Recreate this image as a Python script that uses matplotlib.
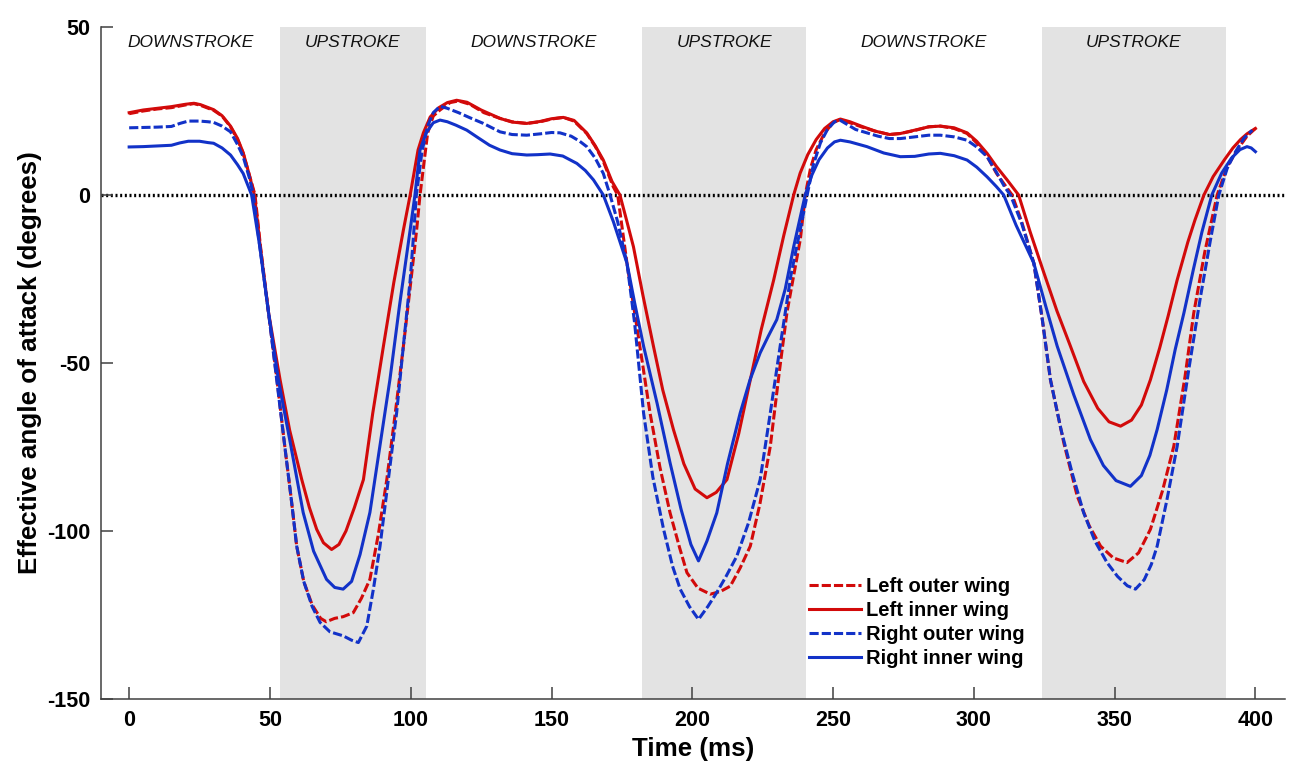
import matplotlib
matplotlib.use("Agg")
import matplotlib.pyplot as plt

plt.rcParams['font.family'] = ['Liberation Sans', 'DejaVu Sans']
plt.rcParams['axes.unicode_minus'] = False

# stroke phases (ms)
upstrokes = [(53.6, 105.3), (182.1, 240.5), (324.2, 389.4)]
phase_labels = ["DOWNSTROKE", "UPSTROKE", "DOWNSTROKE", "UPSTROKE", "DOWNSTROKE", "UPSTROKE"]
phase_centers = [21.8, 79.5, 143.7, 211.3, 282.3, 356.8]

# Left outer wing (red dashed)
lo_t = [0, 5, 10, 15, 20, 23, 25.3, 30, 33, 36, 38.5, 40.5, 42.5, 44.7, 46.6, 49.5, 52.5, 55.3, 57.5,
        59.5, 62, 65, 68, 70, 73, 76, 79.6, 82.5, 85.5, 88.5, 91.5, 94.5, 97.4, 100, 102.1, 103.3,
        106, 108, 110.4, 114, 117, 121, 126, 131.7, 136, 141.2, 146, 150, 154.2, 158, 162.5, 165.5,
        168.4, 171.9, 173.5, 176.8, 181, 185, 188.5, 192.1, 195.5, 198.1, 202, 206.4, 210, 213.5,
        217, 220.6, 224, 227.7, 231, 233.6, 236, 238.4, 240.1, 242, 244, 247, 250, 252.6, 256, 260,
        265, 270, 273.9, 279, 284, 288.1, 293, 297.6, 301, 304.7, 308, 311, 313.6, 317, 321.3, 324.3,
        327.2, 332, 336.7, 341, 345, 349.5, 354.4, 358.5, 362.7, 367, 371, 375, 378.1, 382, 386.4,
        390, 394, 397, 400]
lo_y = [24.2, 25, 25.6, 26, 26.8, 27.2, 26.7, 25.2, 23.5, 20.3, 16.5, 12.4, 6.5, 0, -15, -35, -55, -75, -90,
        -104.5, -115, -122, -126, -127, -126, -125.5, -124.3, -120, -114.4, -101, -84.7, -65, -45, -26, -10.4, 0,
        18.4, 23.5, 25.3, 27.5, 28, 27, 24.5, 22.8, 21.8, 21.3, 21.8, 22.6, 23.1, 22, 18.3, 14.5,
        10, 2.5, 0, -20.3, -43, -64.9, -81, -94.6, -105, -112.4, -117, -118.8, -118, -116.4,
        -111, -104.5, -92, -74.8, -52, -35.1, -24, -13, 0, 8, 13.5, 18.5, 21.5, 22.5, 21.5, 20.3,
        19, 18, 18.3, 19.2, 20.3, 20.5, 19.8, 18.3, 15.5, 11.5, 6.5, 3, 0, -8, -20.3, -37,
        -55, -74, -89.6, -98.5, -104.5, -108, -109.4, -106.5, -99.5, -88, -74.8, -54, -35.1, -17, 0,
        8.5, 14, 17.5, 19.8]

# Left inner wing (red solid)
li_t = [0, 5, 10, 15, 20, 23, 25.3, 30, 33, 36, 38.5, 40.5, 42.5, 44.5, 46.5, 49.5, 53.6, 57, 61.3,
        64, 66.6, 69, 71.9, 74.5, 77, 80, 83.2, 86.5, 90.3, 94, 97.4, 99.8, 102.6, 104.5, 106.9, 110,
        113, 116.3, 120, 125, 131.7, 136, 141.2, 146, 150, 154.2, 158, 162.5, 165.5, 168.4, 171.5,
        174.3, 176.5, 179.1, 182.5, 186.2, 189.5, 193.3, 197, 201, 205.2, 208.5, 212.3, 216.5, 220.6,
        224.5, 228.9, 232.5, 236, 238.3, 241, 244, 247, 250, 252.6, 256, 260, 265, 270, 273.9, 279,
        284, 288.1, 293, 297.6, 301, 304.7, 308, 311.8, 315.9, 320, 324.8, 329.5, 334.3, 339, 344,
        348, 352.1, 356, 359.5, 362.7, 366, 369, 372.2, 376, 378.5, 381.7, 385, 389, 392, 394.7, 397, 400]
li_y = [24.5, 25.3, 25.8, 26.3, 27, 27.3, 26.9, 25.4, 23.6, 20.5, 16.8, 12.6, 6.5, 0, -15, -35, -55, -70, -84.7,
        -93, -99.5, -103.5, -105.5, -104, -100, -93, -84.7, -65, -45, -26, -10.4, 0, 13.4, 18.5, 23.2, 26,
        27.5, 28.2, 27.6, 25.3, 22.8, 21.7, 21.3, 21.9, 22.7, 23.1, 22.2, 18.5, 14.7, 10.4, 4,
        0, -7, -15.4, -30, -45, -58, -69.8, -80, -87.5, -90.1, -88.5, -84.7, -71, -55,
        -40, -25.3, -12, 0, 6.5, 12, 16.5, 19.8, 21.8, 22.6, 21.8, 20.5, 19, 18, 18.3, 19.3,
        20.3, 20.5, 20, 18.5, 16, 12.4, 8.5, 4.5, 0, -11, -23, -34.5, -45, -55.5, -63.5,
        -67.5, -68.8, -67, -62.5, -55, -45.5, -36, -25.3, -14, -7.5, 0, 5.5, 10.5, 14, 16.5, 18.2, 19.8]

# Right outer wing (blue dashed)
ro_t = [0, 5, 10, 15, 18, 21, 25, 28, 30, 33, 36, 38.5, 40.5, 42.9, 44.1, 46.4, 49.5, 52.4, 55.3, 57.5,
        59.5, 62, 65, 67.8, 71.3, 76, 79, 81.4, 84.4, 86.8, 89.1, 92, 95, 97.5, 99.8, 101, 102, 104,
        106, 108, 110.4, 113, 117, 121, 125.8, 131.7, 136, 141.2, 146, 150, 153, 157, 160, 162.5,
        165.5, 168.4, 170.8, 173.5, 176.8, 179.5, 182.7, 186, 189.8, 193, 195.7, 199, 202.2, 205.5,
        208.7, 212, 215.8, 220, 224.1, 227.5, 231.2, 235, 238.3, 240.8, 243, 245.5, 248, 250.5, 252.6,
        255, 258, 262, 266, 270, 273.9, 279, 284, 288.1, 293, 297.6, 301, 304.7, 308, 311, 313, 317,
        321.3, 324.3, 327.2, 331, 335, 339, 343, 347.3, 351, 354.5, 357.4, 360.5, 363, 365.1, 368.5,
        372.2, 376.5, 380.5, 384, 387, 390, 393, 396, 398.9]
ro_y = [20, 20.1, 20.2, 20.4, 21.3, 22, 22, 21.8, 21.6, 20.5, 18.8, 15, 11.4, 4.5, 0, -15.4, -35, -55, -75, -90,
        -104.5, -115, -122.5, -127.2, -130, -131.2, -132.5, -133.2, -128.3, -117, -104.5, -85, -64.8, -44, -25.3, -12, 0, 13,
        20.5, 24.5, 26.4, 25.8, 24.5, 23, 21.3, 18.8, 18, 17.8, 18.2, 18.6, 18.5, 17.5, 16, 14.4,
        11, 6.4, 0, -8, -20.3, -38, -64.9, -84, -99.5, -110.5, -117.3, -122.5, -126.3, -122.5,
        -118.3, -113.5, -107.5, -97.5, -84.7, -66, -45, -24, -10.4, 0, 9, 15.5, 19.5, 21.8, 22.2,
        21, 19.5, 18.5, 17.5, 16.8, 16.8, 17.3, 17.8, 17.8, 17.3, 16.3, 14.3, 11.4, 6.8, 2.3, 0, -8.5,
        -20.3, -37, -55, -70, -83, -94.6, -103, -109.4, -113.5, -116.3, -117.3, -114.5, -110, -104.5, -91,
        -74.8, -51, -30.2, -13.5, 0, 8, 13, 17, 19.3]

# Right inner wing (blue solid)
ri_t = [0, 5, 10, 15, 18, 21, 25, 28, 30, 33, 36, 38.5, 40.5, 43.5, 46.4, 49.5, 53, 57.5, 61.8, 65.5,
        70.1, 73, 76, 79, 82, 85.5, 89, 92.6, 96, 99.8, 101.5, 103.3, 105.5, 108, 110.4, 113, 116,
        119.9, 124, 128, 131.7, 136, 141.2, 145, 149.5, 154, 159, 162, 164.9, 168.4, 172, 176.8,
        179.5, 182.7, 187.5, 192.1, 196, 199.5, 202.2, 205.2, 208.7, 212.5, 217, 220.5, 224.1, 227,
        230, 233, 236, 238.5, 240.1, 242.5, 245, 248, 250.5, 252.6, 256, 262, 268, 273.9, 279, 284,
        288.1, 293, 297.6, 301, 304.7, 308, 310.6, 315, 321.3, 325.5, 329.6, 335.5, 341.4, 346, 350.5,
        355.6, 359.5, 362.5, 365.1, 368.5, 371.5, 374.6, 378, 381, 384.5, 388, 391.5, 394.5, 397, 398.5, 400]
ri_y = [14.3, 14.4, 14.6, 14.8, 15.5, 16, 16, 15.6, 15.4, 14, 11.9, 9, 6.4, 0, -15.4, -35, -55, -75, -94.5, -106,
        -114.4, -116.8, -117.3, -115, -107, -94.5, -75, -55, -33, -10.4, 0, 13.4, 18.5, 21.5, 22.3, 21.8, 20.8,
        19.3, 17, 14.8, 13.4, 12.3, 11.9, 12, 12.2, 11.6, 9.4, 7.3, 4.5, 0, -8, -20.3,
        -32, -45, -62, -79.7, -93.5, -104, -108.9, -103, -94.6, -80, -64.9, -55, -47, -42,
        -37.1, -28, -15.4, -6, 0, 6, 10.5, 14, 15.8, 16.3, 15.8, 14.4, 12.5, 11.4, 11.5, 12.2,
        12.4, 11.7, 10.4, 8.3, 5.4, 2.5, 0, -9, -20.3, -33, -45, -59.5, -72.8, -80.5, -85,
        -86.7, -83.5, -77.5, -69.8, -58, -46, -35.1, -22, -11, 0, 6.5, 11, 13.5, 14.4, 14, 12.9]

red = '#d20a0a'
blue = '#1232c8'

fig = plt.figure(figsize=(12.98, 7.76), dpi=100)
ax = fig.add_axes([101/1298, 1 - 699/776, (1285 - 101)/1298, (699 - 27)/776])

for a, b in upstrokes:
    ax.axvspan(a, b, color='#e3e3e3', lw=0, zorder=0)

ax.axhline(0, color='black', ls=(0, (0.6, 0.8)), lw=2.4, zorder=1)

dash = (0, (3, 1))
ax.plot(lo_t, lo_y, color=red, lw=2.2, ls=dash, label='Left outer wing', zorder=3)
ax.plot(li_t, li_y, color=red, lw=2.2, label='Left inner wing', zorder=3)
ax.plot(ro_t, ro_y, color=blue, lw=2.2, ls=dash, label='Right outer wing', zorder=3)
ax.plot(ri_t, ri_y, color=blue, lw=2.2, label='Right inner wing', zorder=3)

for xc, lab in zip(phase_centers, phase_labels):
    ax.text(xc, 45.5, lab, ha='center', va='center', fontsize=12.5, style='italic', color='#111111')

ax.set_xlim(-10, 410.5)
ax.set_ylim(-150, 50)
ax.set_xticks([0, 50, 100, 150, 200, 250, 300, 350, 400])
ax.set_yticks([-150, -100, -50, 0, 50])
ax.tick_params(direction='in', length=8.5, width=1.1, color='#404040', labelsize=15.5, pad=8)
for lbl in ax.get_xticklabels() + ax.get_yticklabels():
    lbl.set_fontweight('bold')
for s in ['top', 'right']:
    ax.spines[s].set_visible(False)
for s in ['left', 'bottom']:
    ax.spines[s].set_color('#404040')
    ax.spines[s].set_linewidth(1.1)

ax.set_xlabel('Time (ms)', fontsize=18.7, fontweight='bold', labelpad=4)
ax.set_ylabel('Effective angle of attack (degrees)', fontsize=18.7, fontweight='bold', labelpad=3)

leg = ax.legend(loc='upper left', bbox_to_anchor=(809/1298, 1 - 577/776), bbox_transform=fig.transFigure,
                frameon=False, fontsize=14.5, handlelength=2.58, handletextpad=0.25, labelspacing=0.25,
                borderpad=0, borderaxespad=0)
for t in leg.get_texts():
    t.set_fontweight('bold')

fig.savefig('out.png', dpi=100)
